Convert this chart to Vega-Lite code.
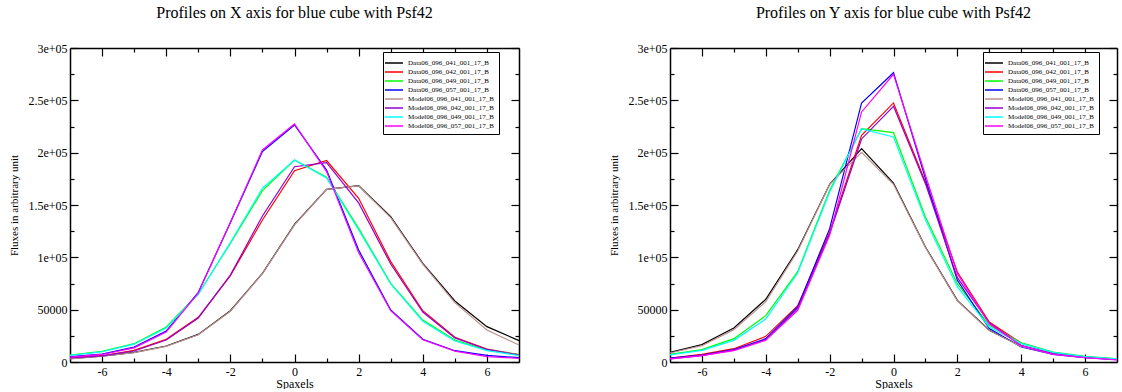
{
  "$schema": "https://vega.github.io/schema/vega-lite/v6.json",
  "padding": {"left": 8, "top": 5, "right": 0, "bottom": 0},
  "bounds": "flush",
  "spacing": 151,
  "config": {
    "view": {"stroke": null},
    "axis": {"grid": false, "domainColor": "black", "domainWidth": 1.5, "tickColor": "black", "tickWidth": 1.2, "labelColor": "black", "titleColor": "black", "labelFont": "Liberation Serif", "titleFont": "Liberation Serif", "titleFontWeight": "normal", "labelFlush": false, "labelOverlap": false},
    "title": {"font": "Liberation Serif", "fontSize": 16, "fontWeight": "normal", "color": "black", "anchor": "middle", "frame": "group", "offset": 21}
  },
  "datasets": {
    "xprof": [
      {"s":"Data06_096_041_001_17_B","x":-7,"v":3200},{"s":"Data06_096_041_001_17_B","x":-6,"v":5700},{"s":"Data06_096_041_001_17_B","x":-5,"v":9200},{"s":"Data06_096_041_001_17_B","x":-4,"v":15300},{"s":"Data06_096_041_001_17_B","x":-3,"v":26400},{"s":"Data06_096_041_001_17_B","x":-2,"v":49000},{"s":"Data06_096_041_001_17_B","x":-1,"v":84700},{"s":"Data06_096_041_001_17_B","x":0,"v":131500},{"s":"Data06_096_041_001_17_B","x":1,"v":165000},{"s":"Data06_096_041_001_17_B","x":2,"v":168500},{"s":"Data06_096_041_001_17_B","x":3,"v":138900},{"s":"Data06_096_041_001_17_B","x":4,"v":94300},{"s":"Data06_096_041_001_17_B","x":5,"v":58300},{"s":"Data06_096_041_001_17_B","x":6,"v":33800},{"s":"Data06_096_041_001_17_B","x":7,"v":20400},
      {"s":"Data06_096_042_001_17_B","x":-7,"v":4100},{"s":"Data06_096_042_001_17_B","x":-6,"v":6000},{"s":"Data06_096_042_001_17_B","x":-5,"v":11100},{"s":"Data06_096_042_001_17_B","x":-4,"v":21700},{"s":"Data06_096_042_001_17_B","x":-3,"v":42700},{"s":"Data06_096_042_001_17_B","x":-2,"v":82500},{"s":"Data06_096_042_001_17_B","x":-1,"v":135700},{"s":"Data06_096_042_001_17_B","x":0,"v":182800},{"s":"Data06_096_042_001_17_B","x":1,"v":192500},{"s":"Data06_096_042_001_17_B","x":2,"v":156400},{"s":"Data06_096_042_001_17_B","x":3,"v":95900},{"s":"Data06_096_042_001_17_B","x":4,"v":49000},{"s":"Data06_096_042_001_17_B","x":5,"v":23600},{"s":"Data06_096_042_001_17_B","x":6,"v":12400},{"s":"Data06_096_042_001_17_B","x":7,"v":7000},
      {"s":"Data06_096_049_001_17_B","x":-7,"v":6700},{"s":"Data06_096_049_001_17_B","x":-6,"v":10200},{"s":"Data06_096_049_001_17_B","x":-5,"v":17500},{"s":"Data06_096_049_001_17_B","x":-4,"v":33400},{"s":"Data06_096_049_001_17_B","x":-3,"v":65000},{"s":"Data06_096_049_001_17_B","x":-2,"v":113400},{"s":"Data06_096_049_001_17_B","x":-1,"v":163700},{"s":"Data06_096_049_001_17_B","x":0,"v":193000},{"s":"Data06_096_049_001_17_B","x":1,"v":176500},{"s":"Data06_096_049_001_17_B","x":2,"v":127700},{"s":"Data06_096_049_001_17_B","x":3,"v":75200},{"s":"Data06_096_049_001_17_B","x":4,"v":40100},{"s":"Data06_096_049_001_17_B","x":5,"v":21000},{"s":"Data06_096_049_001_17_B","x":6,"v":11500},{"s":"Data06_096_049_001_17_B","x":7,"v":7000},
      {"s":"Data06_096_057_001_17_B","x":-7,"v":5100},{"s":"Data06_096_057_001_17_B","x":-6,"v":7600},{"s":"Data06_096_057_001_17_B","x":-5,"v":14300},{"s":"Data06_096_057_001_17_B","x":-4,"v":29600},{"s":"Data06_096_057_001_17_B","x":-3,"v":66600},{"s":"Data06_096_057_001_17_B","x":-2,"v":133100},{"s":"Data06_096_057_001_17_B","x":-1,"v":201000},{"s":"Data06_096_057_001_17_B","x":0,"v":226500},{"s":"Data06_096_057_001_17_B","x":1,"v":183500},{"s":"Data06_096_057_001_17_B","x":2,"v":107000},{"s":"Data06_096_057_001_17_B","x":3,"v":49700},{"s":"Data06_096_057_001_17_B","x":4,"v":21700},{"s":"Data06_096_057_001_17_B","x":5,"v":10800},{"s":"Data06_096_057_001_17_B","x":6,"v":6400},{"s":"Data06_096_057_001_17_B","x":7,"v":4100},
      {"s":"Model06_096_041_001_17_B","x":-7,"v":3000},{"s":"Model06_096_041_001_17_B","x":-6,"v":5500},{"s":"Model06_096_041_001_17_B","x":-5,"v":9000},{"s":"Model06_096_041_001_17_B","x":-4,"v":15000},{"s":"Model06_096_041_001_17_B","x":-3,"v":26000},{"s":"Model06_096_041_001_17_B","x":-2,"v":48500},{"s":"Model06_096_041_001_17_B","x":-1,"v":84500},{"s":"Model06_096_041_001_17_B","x":0,"v":131000},{"s":"Model06_096_041_001_17_B","x":1,"v":165000},{"s":"Model06_096_041_001_17_B","x":2,"v":168200},{"s":"Model06_096_041_001_17_B","x":3,"v":138000},{"s":"Model06_096_041_001_17_B","x":4,"v":93500},{"s":"Model06_096_041_001_17_B","x":5,"v":56700},{"s":"Model06_096_041_001_17_B","x":6,"v":30600},{"s":"Model06_096_041_001_17_B","x":7,"v":16200},
      {"s":"Model06_096_042_001_17_B","x":-7,"v":3800},{"s":"Model06_096_042_001_17_B","x":-6,"v":5800},{"s":"Model06_096_042_001_17_B","x":-5,"v":10500},{"s":"Model06_096_042_001_17_B","x":-4,"v":21000},{"s":"Model06_096_042_001_17_B","x":-3,"v":42000},{"s":"Model06_096_042_001_17_B","x":-2,"v":83000},{"s":"Model06_096_042_001_17_B","x":-1,"v":139500},{"s":"Model06_096_042_001_17_B","x":0,"v":186600},{"s":"Model06_096_042_001_17_B","x":1,"v":190400},{"s":"Model06_096_042_001_17_B","x":2,"v":152000},{"s":"Model06_096_042_001_17_B","x":3,"v":93600},{"s":"Model06_096_042_001_17_B","x":4,"v":47800},{"s":"Model06_096_042_001_17_B","x":5,"v":23000},{"s":"Model06_096_042_001_17_B","x":6,"v":12000},{"s":"Model06_096_042_001_17_B","x":7,"v":6500},
      {"s":"Model06_096_049_001_17_B","x":-7,"v":6400},{"s":"Model06_096_049_001_17_B","x":-6,"v":9800},{"s":"Model06_096_049_001_17_B","x":-5,"v":17000},{"s":"Model06_096_049_001_17_B","x":-4,"v":32500},{"s":"Model06_096_049_001_17_B","x":-3,"v":64500},{"s":"Model06_096_049_001_17_B","x":-2,"v":114000},{"s":"Model06_096_049_001_17_B","x":-1,"v":166000},{"s":"Model06_096_049_001_17_B","x":0,"v":193000},{"s":"Model06_096_049_001_17_B","x":1,"v":175800},{"s":"Model06_096_049_001_17_B","x":2,"v":126100},{"s":"Model06_096_049_001_17_B","x":3,"v":74500},{"s":"Model06_096_049_001_17_B","x":4,"v":39000},{"s":"Model06_096_049_001_17_B","x":5,"v":20000},{"s":"Model06_096_049_001_17_B","x":6,"v":10800},{"s":"Model06_096_049_001_17_B","x":7,"v":6200},
      {"s":"Model06_096_057_001_17_B","x":-7,"v":4600},{"s":"Model06_096_057_001_17_B","x":-6,"v":7200},{"s":"Model06_096_057_001_17_B","x":-5,"v":13500},{"s":"Model06_096_057_001_17_B","x":-4,"v":28600},{"s":"Model06_096_057_001_17_B","x":-3,"v":66000},{"s":"Model06_096_057_001_17_B","x":-2,"v":133500},{"s":"Model06_096_057_001_17_B","x":-1,"v":202600},{"s":"Model06_096_057_001_17_B","x":0,"v":227400},{"s":"Model06_096_057_001_17_B","x":1,"v":181900},{"s":"Model06_096_057_001_17_B","x":2,"v":104500},{"s":"Model06_096_057_001_17_B","x":3,"v":49000},{"s":"Model06_096_057_001_17_B","x":4,"v":21200},{"s":"Model06_096_057_001_17_B","x":5,"v":10400},{"s":"Model06_096_057_001_17_B","x":6,"v":5100},{"s":"Model06_096_057_001_17_B","x":7,"v":3500}
    ],
    "yprof": [
      {"s":"Data06_096_041_001_17_B","x":-7,"v":9200},{"s":"Data06_096_041_001_17_B","x":-6,"v":16600},{"s":"Data06_096_041_001_17_B","x":-5,"v":32500},{"s":"Data06_096_041_001_17_B","x":-4,"v":59900},{"s":"Data06_096_041_001_17_B","x":-3,"v":107300},{"s":"Data06_096_041_001_17_B","x":-2,"v":169800},{"s":"Data06_096_041_001_17_B","x":-1,"v":203800},{"s":"Data06_096_041_001_17_B","x":0,"v":171000},{"s":"Data06_096_041_001_17_B","x":1,"v":109900},{"s":"Data06_096_041_001_17_B","x":2,"v":58900},{"s":"Data06_096_041_001_17_B","x":3,"v":30300},{"s":"Data06_096_041_001_17_B","x":4,"v":15000},{"s":"Data06_096_041_001_17_B","x":5,"v":8000},{"s":"Data06_096_041_001_17_B","x":6,"v":4500},{"s":"Data06_096_041_001_17_B","x":7,"v":2500},
      {"s":"Data06_096_042_001_17_B","x":-7,"v":3800},{"s":"Data06_096_042_001_17_B","x":-6,"v":7300},{"s":"Data06_096_042_001_17_B","x":-5,"v":12700},{"s":"Data06_096_042_001_17_B","x":-4,"v":24500},{"s":"Data06_096_042_001_17_B","x":-3,"v":53800},{"s":"Data06_096_042_001_17_B","x":-2,"v":124200},{"s":"Data06_096_042_001_17_B","x":-1,"v":216600},{"s":"Data06_096_042_001_17_B","x":0,"v":247500},{"s":"Data06_096_042_001_17_B","x":1,"v":172000},{"s":"Data06_096_042_001_17_B","x":2,"v":86000},{"s":"Data06_096_042_001_17_B","x":3,"v":38200},{"s":"Data06_096_042_001_17_B","x":4,"v":18200},{"s":"Data06_096_042_001_17_B","x":5,"v":9000},{"s":"Data06_096_042_001_17_B","x":6,"v":5000},{"s":"Data06_096_042_001_17_B","x":7,"v":2800},
      {"s":"Data06_096_049_001_17_B","x":-7,"v":7300},{"s":"Data06_096_049_001_17_B","x":-6,"v":11800},{"s":"Data06_096_049_001_17_B","x":-5,"v":22300},{"s":"Data06_096_049_001_17_B","x":-4,"v":44300},{"s":"Data06_096_049_001_17_B","x":-3,"v":86300},{"s":"Data06_096_049_001_17_B","x":-2,"v":164000},{"s":"Data06_096_049_001_17_B","x":-1,"v":222900},{"s":"Data06_096_049_001_17_B","x":0,"v":219100},{"s":"Data06_096_049_001_17_B","x":1,"v":138500},{"s":"Data06_096_049_001_17_B","x":2,"v":74800},{"s":"Data06_096_049_001_17_B","x":3,"v":35000},{"s":"Data06_096_049_001_17_B","x":4,"v":18200},{"s":"Data06_096_049_001_17_B","x":5,"v":9500},{"s":"Data06_096_049_001_17_B","x":6,"v":5400},{"s":"Data06_096_049_001_17_B","x":7,"v":3000},
      {"s":"Data06_096_057_001_17_B","x":-7,"v":3800},{"s":"Data06_096_057_001_17_B","x":-6,"v":6700},{"s":"Data06_096_057_001_17_B","x":-5,"v":11800},{"s":"Data06_096_057_001_17_B","x":-4,"v":22300},{"s":"Data06_096_057_001_17_B","x":-3,"v":52600},{"s":"Data06_096_057_001_17_B","x":-2,"v":127400},{"s":"Data06_096_057_001_17_B","x":-1,"v":247500},{"s":"Data06_096_057_001_17_B","x":0,"v":276400},{"s":"Data06_096_057_001_17_B","x":1,"v":175200},{"s":"Data06_096_057_001_17_B","x":2,"v":78000},{"s":"Data06_096_057_001_17_B","x":3,"v":31900},{"s":"Data06_096_057_001_17_B","x":4,"v":14300},{"s":"Data06_096_057_001_17_B","x":5,"v":7300},{"s":"Data06_096_057_001_17_B","x":6,"v":4200},{"s":"Data06_096_057_001_17_B","x":7,"v":2200},
      {"s":"Model06_096_041_001_17_B","x":-7,"v":8600},{"s":"Model06_096_041_001_17_B","x":-6,"v":15600},{"s":"Model06_096_041_001_17_B","x":-5,"v":30900},{"s":"Model06_096_041_001_17_B","x":-4,"v":57600},{"s":"Model06_096_041_001_17_B","x":-3,"v":106000},{"s":"Model06_096_041_001_17_B","x":-2,"v":169800},{"s":"Model06_096_041_001_17_B","x":-1,"v":200300},{"s":"Model06_096_041_001_17_B","x":0,"v":169800},{"s":"Model06_096_041_001_17_B","x":1,"v":109500},{"s":"Model06_096_041_001_17_B","x":2,"v":58500},{"s":"Model06_096_041_001_17_B","x":3,"v":30000},{"s":"Model06_096_041_001_17_B","x":4,"v":14800},{"s":"Model06_096_041_001_17_B","x":5,"v":7800},{"s":"Model06_096_041_001_17_B","x":6,"v":4400},{"s":"Model06_096_041_001_17_B","x":7,"v":2400},
      {"s":"Model06_096_042_001_17_B","x":-7,"v":3000},{"s":"Model06_096_042_001_17_B","x":-6,"v":6100},{"s":"Model06_096_042_001_17_B","x":-5,"v":11500},{"s":"Model06_096_042_001_17_B","x":-4,"v":21500},{"s":"Model06_096_042_001_17_B","x":-3,"v":51000},{"s":"Model06_096_042_001_17_B","x":-2,"v":122500},{"s":"Model06_096_042_001_17_B","x":-1,"v":213100},{"s":"Model06_096_042_001_17_B","x":0,"v":244300},{"s":"Model06_096_042_001_17_B","x":1,"v":170400},{"s":"Model06_096_042_001_17_B","x":2,"v":80600},{"s":"Model06_096_042_001_17_B","x":3,"v":37500},{"s":"Model06_096_042_001_17_B","x":4,"v":15900},{"s":"Model06_096_042_001_17_B","x":5,"v":8000},{"s":"Model06_096_042_001_17_B","x":6,"v":4600},{"s":"Model06_096_042_001_17_B","x":7,"v":2500},
      {"s":"Model06_096_049_001_17_B","x":-7,"v":6800},{"s":"Model06_096_049_001_17_B","x":-6,"v":11100},{"s":"Model06_096_049_001_17_B","x":-5,"v":20700},{"s":"Model06_096_049_001_17_B","x":-4,"v":41100},{"s":"Model06_096_049_001_17_B","x":-3,"v":85000},{"s":"Model06_096_049_001_17_B","x":-2,"v":162400},{"s":"Model06_096_049_001_17_B","x":-1,"v":222600},{"s":"Model06_096_049_001_17_B","x":0,"v":215000},{"s":"Model06_096_049_001_17_B","x":1,"v":136000},{"s":"Model06_096_049_001_17_B","x":2,"v":71700},{"s":"Model06_096_049_001_17_B","x":3,"v":33400},{"s":"Model06_096_049_001_17_B","x":4,"v":17500},{"s":"Model06_096_049_001_17_B","x":5,"v":9200},{"s":"Model06_096_049_001_17_B","x":6,"v":5200},{"s":"Model06_096_049_001_17_B","x":7,"v":2900},
      {"s":"Model06_096_057_001_17_B","x":-7,"v":2900},{"s":"Model06_096_057_001_17_B","x":-6,"v":6100},{"s":"Model06_096_057_001_17_B","x":-5,"v":10800},{"s":"Model06_096_057_001_17_B","x":-4,"v":20700},{"s":"Model06_096_057_001_17_B","x":-3,"v":49400},{"s":"Model06_096_057_001_17_B","x":-2,"v":121000},{"s":"Model06_096_057_001_17_B","x":-1,"v":238900},{"s":"Model06_096_057_001_17_B","x":0,"v":274900},{"s":"Model06_096_057_001_17_B","x":1,"v":178400},{"s":"Model06_096_057_001_17_B","x":2,"v":84400},{"s":"Model06_096_057_001_17_B","x":3,"v":36500},{"s":"Model06_096_057_001_17_B","x":4,"v":15500},{"s":"Model06_096_057_001_17_B","x":5,"v":7300},{"s":"Model06_096_057_001_17_B","x":6,"v":4200},{"s":"Model06_096_057_001_17_B","x":7,"v":2000}
    ]
  },
  "resolve": {"legend": {"color": "independent"}},
  "hconcat": [
    {
      "title": {"text": "Profiles on X axis for blue cube with Psf42"},
      "width": 449,
      "height": 314,
      "data": {"name": "xprof"},
      "resolve": {"axis": {"x": "independent", "y": "independent"}},
      "layer": [
        {
          "mark": {"type": "line", "strokeWidth": 1.2},
          "encoding": {
            "x": {"field": "x", "type": "quantitative", "scale": {"domain": [-7, 7], "nice": false, "zero": false},
              "axis": {"orient": "bottom", "values": [-6,-5,-4,-3,-2,-1,0,1,2,3,4,5,6], "labelExpr": "datum.value % 2 === 0 ? '' + datum.value : ''", "tickSize": {"condition": {"test": "datum.value % 2 === 0", "value": -8}, "value": -4}, "labelPadding": 12, "labelFontSize": 12, "title": "Spaxels", "titleFontSize": 12, "titlePadding": -3}},
            "y": {"field": "v", "type": "quantitative", "scale": {"domain": [0, 300000], "nice": false},
              "axis": {"orient": "left", "values": [0,25000,50000,75000,100000,125000,150000,175000,200000,225000,250000,275000,300000], "labelExpr": "datum.value % 50000 !== 0 ? '' : datum.value === 0 ? '0' : datum.value === 50000 ? '50000' : (datum.value / 100000) + 'e+05'", "tickSize": {"condition": {"test": "datum.value % 50000 === 0", "value": -8}, "value": -4}, "labelPadding": 11, "labelFontSize": 12, "title": "Fluxes in arbitrary unit", "titleFontSize": 11, "titlePadding": 8}},
            "color": {"field": "s", "type": "nominal",
              "scale": {"domain": ["Data06_096_041_001_17_B","Data06_096_042_001_17_B","Data06_096_049_001_17_B","Data06_096_057_001_17_B","Model06_096_041_001_17_B","Model06_096_042_001_17_B","Model06_096_049_001_17_B","Model06_096_057_001_17_B"], "range": ["#000000","#ff0000","#00ff00","#0000ff","#bc8f8f","#9400d3","#00ffff","#ff00ff"]},
              "legend": {"orient": "none", "legendX": 313, "legendY": 4, "title": null, "strokeColor": "black", "fillColor": "white", "padding": 5, "symbolType": "M-1.8,0H1.8", "symbolSize": 100, "symbolStrokeWidth": 1.5, "labelFont": "Liberation Serif", "labelFontSize": 7, "labelColor": "black", "labelOffset": 8, "labelLimit": 0, "rowPadding": 0}}
          }
        },
        {
          "mark": {"type": "line", "opacity": 0},
          "encoding": {
            "x": {"field": "x", "type": "quantitative", "axis": {"orient": "top", "values": [-6,-5,-4,-3,-2,-1,0,1,2,3,4,5,6], "labels": false, "title": null, "tickSize": {"condition": {"test": "datum.value % 2 === 0", "value": -8}, "value": -4}}},
            "y": {"field": "v", "type": "quantitative", "axis": {"orient": "right", "values": [0,25000,50000,75000,100000,125000,150000,175000,200000,225000,250000,275000,300000], "labels": false, "title": null, "tickSize": {"condition": {"test": "datum.value % 50000 === 0", "value": -8}, "value": -4}}},
            "detail": {"field": "s"}
          }
        }
      ]
    },
    {
      "title": {"text": "Profiles on Y axis for blue cube with Psf42"},
      "width": 447,
      "height": 314,
      "data": {"name": "yprof"},
      "resolve": {"axis": {"x": "independent", "y": "independent"}},
      "layer": [
        {
          "mark": {"type": "line", "strokeWidth": 1.2},
          "encoding": {
            "x": {"field": "x", "type": "quantitative", "scale": {"domain": [-7, 7], "nice": false, "zero": false},
              "axis": {"orient": "bottom", "values": [-6,-5,-4,-3,-2,-1,0,1,2,3,4,5,6], "labelExpr": "datum.value % 2 === 0 ? '' + datum.value : ''", "tickSize": {"condition": {"test": "datum.value % 2 === 0", "value": -8}, "value": -4}, "labelPadding": 12, "labelFontSize": 12, "title": "Spaxels", "titleFontSize": 12, "titlePadding": -3}},
            "y": {"field": "v", "type": "quantitative", "scale": {"domain": [0, 300000], "nice": false},
              "axis": {"orient": "left", "values": [0,25000,50000,75000,100000,125000,150000,175000,200000,225000,250000,275000,300000], "labelExpr": "datum.value % 50000 !== 0 ? '' : datum.value === 0 ? '0' : datum.value === 50000 ? '50000' : (datum.value / 100000) + 'e+05'", "tickSize": {"condition": {"test": "datum.value % 50000 === 0", "value": -8}, "value": -4}, "labelPadding": 11, "labelFontSize": 12, "title": "Fluxes in arbitrary unit", "titleFontSize": 11, "titlePadding": 8}},
            "color": {"field": "s", "type": "nominal",
              "scale": {"domain": ["Data06_096_041_001_17_B","Data06_096_042_001_17_B","Data06_096_049_001_17_B","Data06_096_057_001_17_B","Model06_096_041_001_17_B","Model06_096_042_001_17_B","Model06_096_049_001_17_B","Model06_096_057_001_17_B"], "range": ["#000000","#ff0000","#00ff00","#0000ff","#bc8f8f","#9400d3","#00ffff","#ff00ff"]},
              "legend": {"orient": "none", "legendX": 313, "legendY": 4, "title": null, "strokeColor": "black", "fillColor": "white", "padding": 5, "symbolType": "M-1.8,0H1.8", "symbolSize": 100, "symbolStrokeWidth": 1.5, "labelFont": "Liberation Serif", "labelFontSize": 7, "labelColor": "black", "labelOffset": 8, "labelLimit": 0, "rowPadding": 0}}
          }
        },
        {
          "mark": {"type": "line", "opacity": 0},
          "encoding": {
            "x": {"field": "x", "type": "quantitative", "axis": {"orient": "top", "values": [-6,-5,-4,-3,-2,-1,0,1,2,3,4,5,6], "labels": false, "title": null, "tickSize": {"condition": {"test": "datum.value % 2 === 0", "value": -8}, "value": -4}}},
            "y": {"field": "v", "type": "quantitative", "axis": {"orient": "right", "values": [0,25000,50000,75000,100000,125000,150000,175000,200000,225000,250000,275000,300000], "labels": false, "title": null, "tickSize": {"condition": {"test": "datum.value % 50000 === 0", "value": -8}, "value": -4}}},
            "detail": {"field": "s"}
          }
        }
      ]
    }
  ]
}
